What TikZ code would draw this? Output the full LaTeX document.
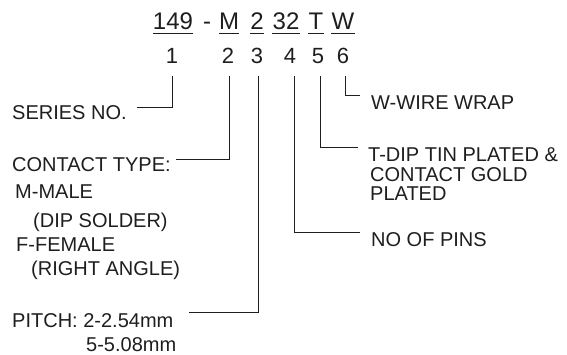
\documentclass[tikz,border=0pt]{standalone}
\usepackage{fontspec}
\setmainfont{Liberation Sans}
\begin{document}
\begin{tikzpicture}[x=1pt,y=-1pt]
  \definecolor{ink}{HTML}{1E1E1E}
  \tikzset{
    code/.style={anchor=base,inner sep=0pt,text=ink,font=\fontsize{24}{24}\selectfont},
    digit/.style={anchor=base,inner sep=0pt,text=ink,font=\fontsize{22}{22}\selectfont},
    note/.style={anchor=base west,inner sep=0pt,text=ink,font=\fontsize{20}{21}\selectfont},
    lead/.style={draw=ink,line width=0.9pt}
  }
  \useasboundingbox (0,0) rectangle (567,354);

  % part number, underlined field by field
  \node[code] (dash) at (207,29.5) {-};
  \foreach \i/\x/\txt in {1/173/149, 2/229/M, 3/257/2, 4/286/32, 5/316/T, 6/343/W}
  {
    \node[code] (c\i) at (\x,29.5) {\txt};
    \draw[lead] ([yshift=-4pt]c\i.south west) -- ([yshift=-4pt]c\i.south east);
  }

  % field numbers
  \foreach \i/\x in {1/172, 2/228, 3/257, 4/290, 5/318, 6/343}
    \node[digit] (n\i) at (\x,63) {\i};

  % left labels
  \node[note] (series)  at (12,119) {SERIES NO.};
  \node[note] (contact) at (12,171) {CONTACT TYPE:};
  \node[note] (male)    at (15,198) {M-MALE};
  \node[note] (dip)     at (33,227) {(DIP SOLDER)};
  \node[note] (female)  at (16,251) {F-FEMALE};
  \node[note] (angle)   at (31,275) {(RIGHT ANGLE)};
  \node[note] (pitch)   at (12,327) {PITCH: 2-2.54mm};
  \node[note] (pitchb)  at (86,351) {5-5.08mm};

  % right labels
  \node[note] (wrap)   at (371,109) {W-WIRE WRAP};
  \node[note] (tin)    at (368,161) {T-DIP TIN PLATED \&};
  \node[note] (gold)   at (370,181) {CONTACT GOLD};
  \node[note] (plated) at (370,200) {PLATED};
  \node[note] (pins)   at (371,246) {NO OF PINS};

  % leader ends
  \coordinate (e1) at (137,107);
  \coordinate (e2) at (176,159);
  \coordinate (e3) at (189,312);
  \coordinate (e4) at (360,232);
  \coordinate (e5) at (358,147);
  \coordinate (e6) at (360,95);

  \foreach \i/\dx in {1/0, 2/1, 3/1.5, 4/4, 5/2, 6/2}
    \draw[lead] (n\i.south) ++(\dx,13) |- (e\i);
\end{tikzpicture}
\end{document}
